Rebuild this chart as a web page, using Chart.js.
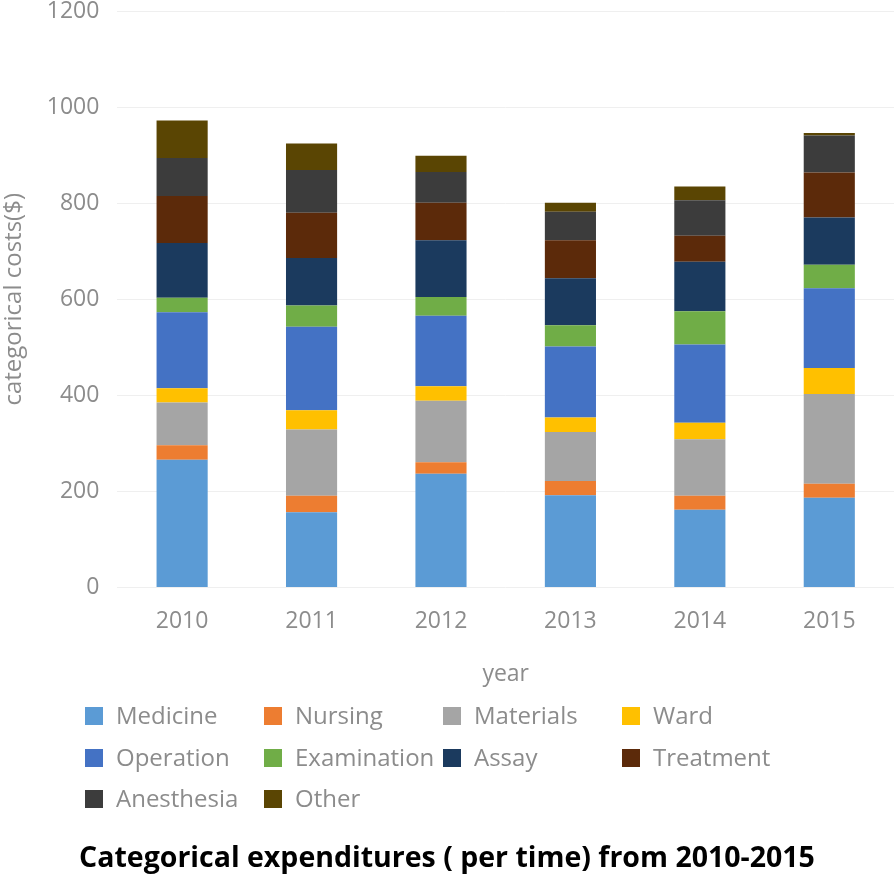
<!DOCTYPE html>
<html>
<head>
<meta charset="utf-8">
<script src="https://cdn.jsdelivr.net/npm/chart.js@4.4.1/dist/chart.umd.min.js"></script>
<style>
  html, body { margin: 0; padding: 0; background: #fff; }
</style>
</head>
<body>
<canvas id="grafico" width="894" height="876"></canvas>
<script>
// datos (costos por categoría, $)
const years = ["2010", "2011", "2012", "2013", "2014", "2015"];
const medicine    = [266, 157, 237, 192, 162, 187];
const nursing     = [30, 34, 24, 30, 29, 29];
const materials   = [89, 138, 128, 102, 118, 187];
const ward        = [30, 40, 30, 30, 34, 54];
const operation   = [158, 174, 147, 148, 163, 166];
const examination = [30, 44, 39, 44, 69, 49];
const assay       = [114, 99, 118, 98, 103, 98];
const treatment   = [98, 94, 78, 79, 54, 94];
const anesthesia  = [79, 89, 64, 59, 74, 77];
const other       = [78, 55, 34, 19, 29, 5];
const yTicks = [0, 200, 400, 600, 800, 1000, 1200];

const series = [
  { label: "Medicine", data: medicine, color: "#5B9BD5" },
  { label: "Nursing", data: nursing, color: "#ED7D31" },
  { label: "Materials", data: materials, color: "#A5A5A5" },
  { label: "Ward", data: ward, color: "#FFC000" },
  { label: "Operation", data: operation, color: "#4472C4" },
  { label: "Examination", data: examination, color: "#70AD47" },
  { label: "Assay", data: assay, color: "#1B3A5E" },
  { label: "Treatment", data: treatment, color: "#5C2A0A" },
  { label: "Anesthesia", data: anesthesia, color: "#3C3C3C" },
  { label: "Other", data: other, color: "#5A4503" }
];

const FONT = "'Open Sans', 'DejaVu Sans', sans-serif";
const gris = "#8c8c8c";

// leyenda en cuadrícula (4 columnas) como en el original
const legendGrid = {
  id: "legendGrid",
  afterDraw(chart, args, opts) {
    const c = chart.ctx;
    c.save();
    c.font = opts.font;
    c.textBaseline = "middle";
    c.textAlign = "left";
    chart.data.datasets.forEach((ds, i) => {
      const x = opts.cols[i % 4];
      const y = opts.rows[Math.floor(i / 4)];
      c.fillStyle = ds.backgroundColor;
      c.fillRect(x, y - 9, 18, 18);
      c.fillStyle = opts.color;
      c.fillText(ds.label, x + 31, y + 1);
    });
    c.restore();
  }
};

const ctx = document.getElementById("grafico").getContext("2d");

const chart = new Chart(ctx, {
  type: "bar",
  data: {
    labels: years,
    datasets: series.map(s => ({
      label: s.label,
      data: s.data,
      backgroundColor: s.color,
      borderWidth: 0,
      categoryPercentage: 1,
      barPercentage: 0.395
    }))
  },
  options: {
    responsive: false,
    animation: false,
    layout: { padding: { top: 11, right: 0, left: 0, bottom: 0 } },
    plugins: {
      legend: { display: false },
      tooltip: { enabled: false },
      title: {
        display: true,
        position: "bottom",
        text: "Categorical expenditures ( per time) from 2010-2015",
        color: "#000",
        font: { family: FONT, size: 28.5, weight: "bold" },
        padding: { top: 16, bottom: 0 }
      },
      legendGrid: {
        font: "24px " + FONT,
        color: gris,
        cols: [85, 264, 443, 622],
        rows: [716, 758, 799]
      }
    },
    scales: {
      x: {
        stacked: true,
        grid: { display: false, drawTicks: false },
        border: { display: false },
        ticks: { color: gris, font: { family: FONT, size: 23 }, padding: 20 },
        title: {
          display: true,
          text: "year",
          color: gris,
          font: { family: FONT, size: 23 },
          padding: { top: 5, bottom: 138 }
        }
      },
      y: {
        stacked: true,
        min: 0,
        max: 1200,
        afterBuildTicks: axis => { axis.ticks = yTicks.map(v => ({ value: v })); },
        afterFit: axis => { axis.paddingTop = 0; }, // el 1200 queda pegado arriba
        grid: { color: "#efefef", drawTicks: false },
        border: { display: false },
        ticks: {
          color: gris,
          font: { family: FONT, size: 23 },
          padding: 18,
          callback: v => String(v)
        },
        title: {
          display: true,
          text: "categorical costs($)",
          color: gris,
          font: { family: FONT, size: 24 },
          padding: { top: 0, bottom: 0 }
        }
      }
    }
  },
  plugins: [legendGrid]
});
</script>
</body>
</html>
